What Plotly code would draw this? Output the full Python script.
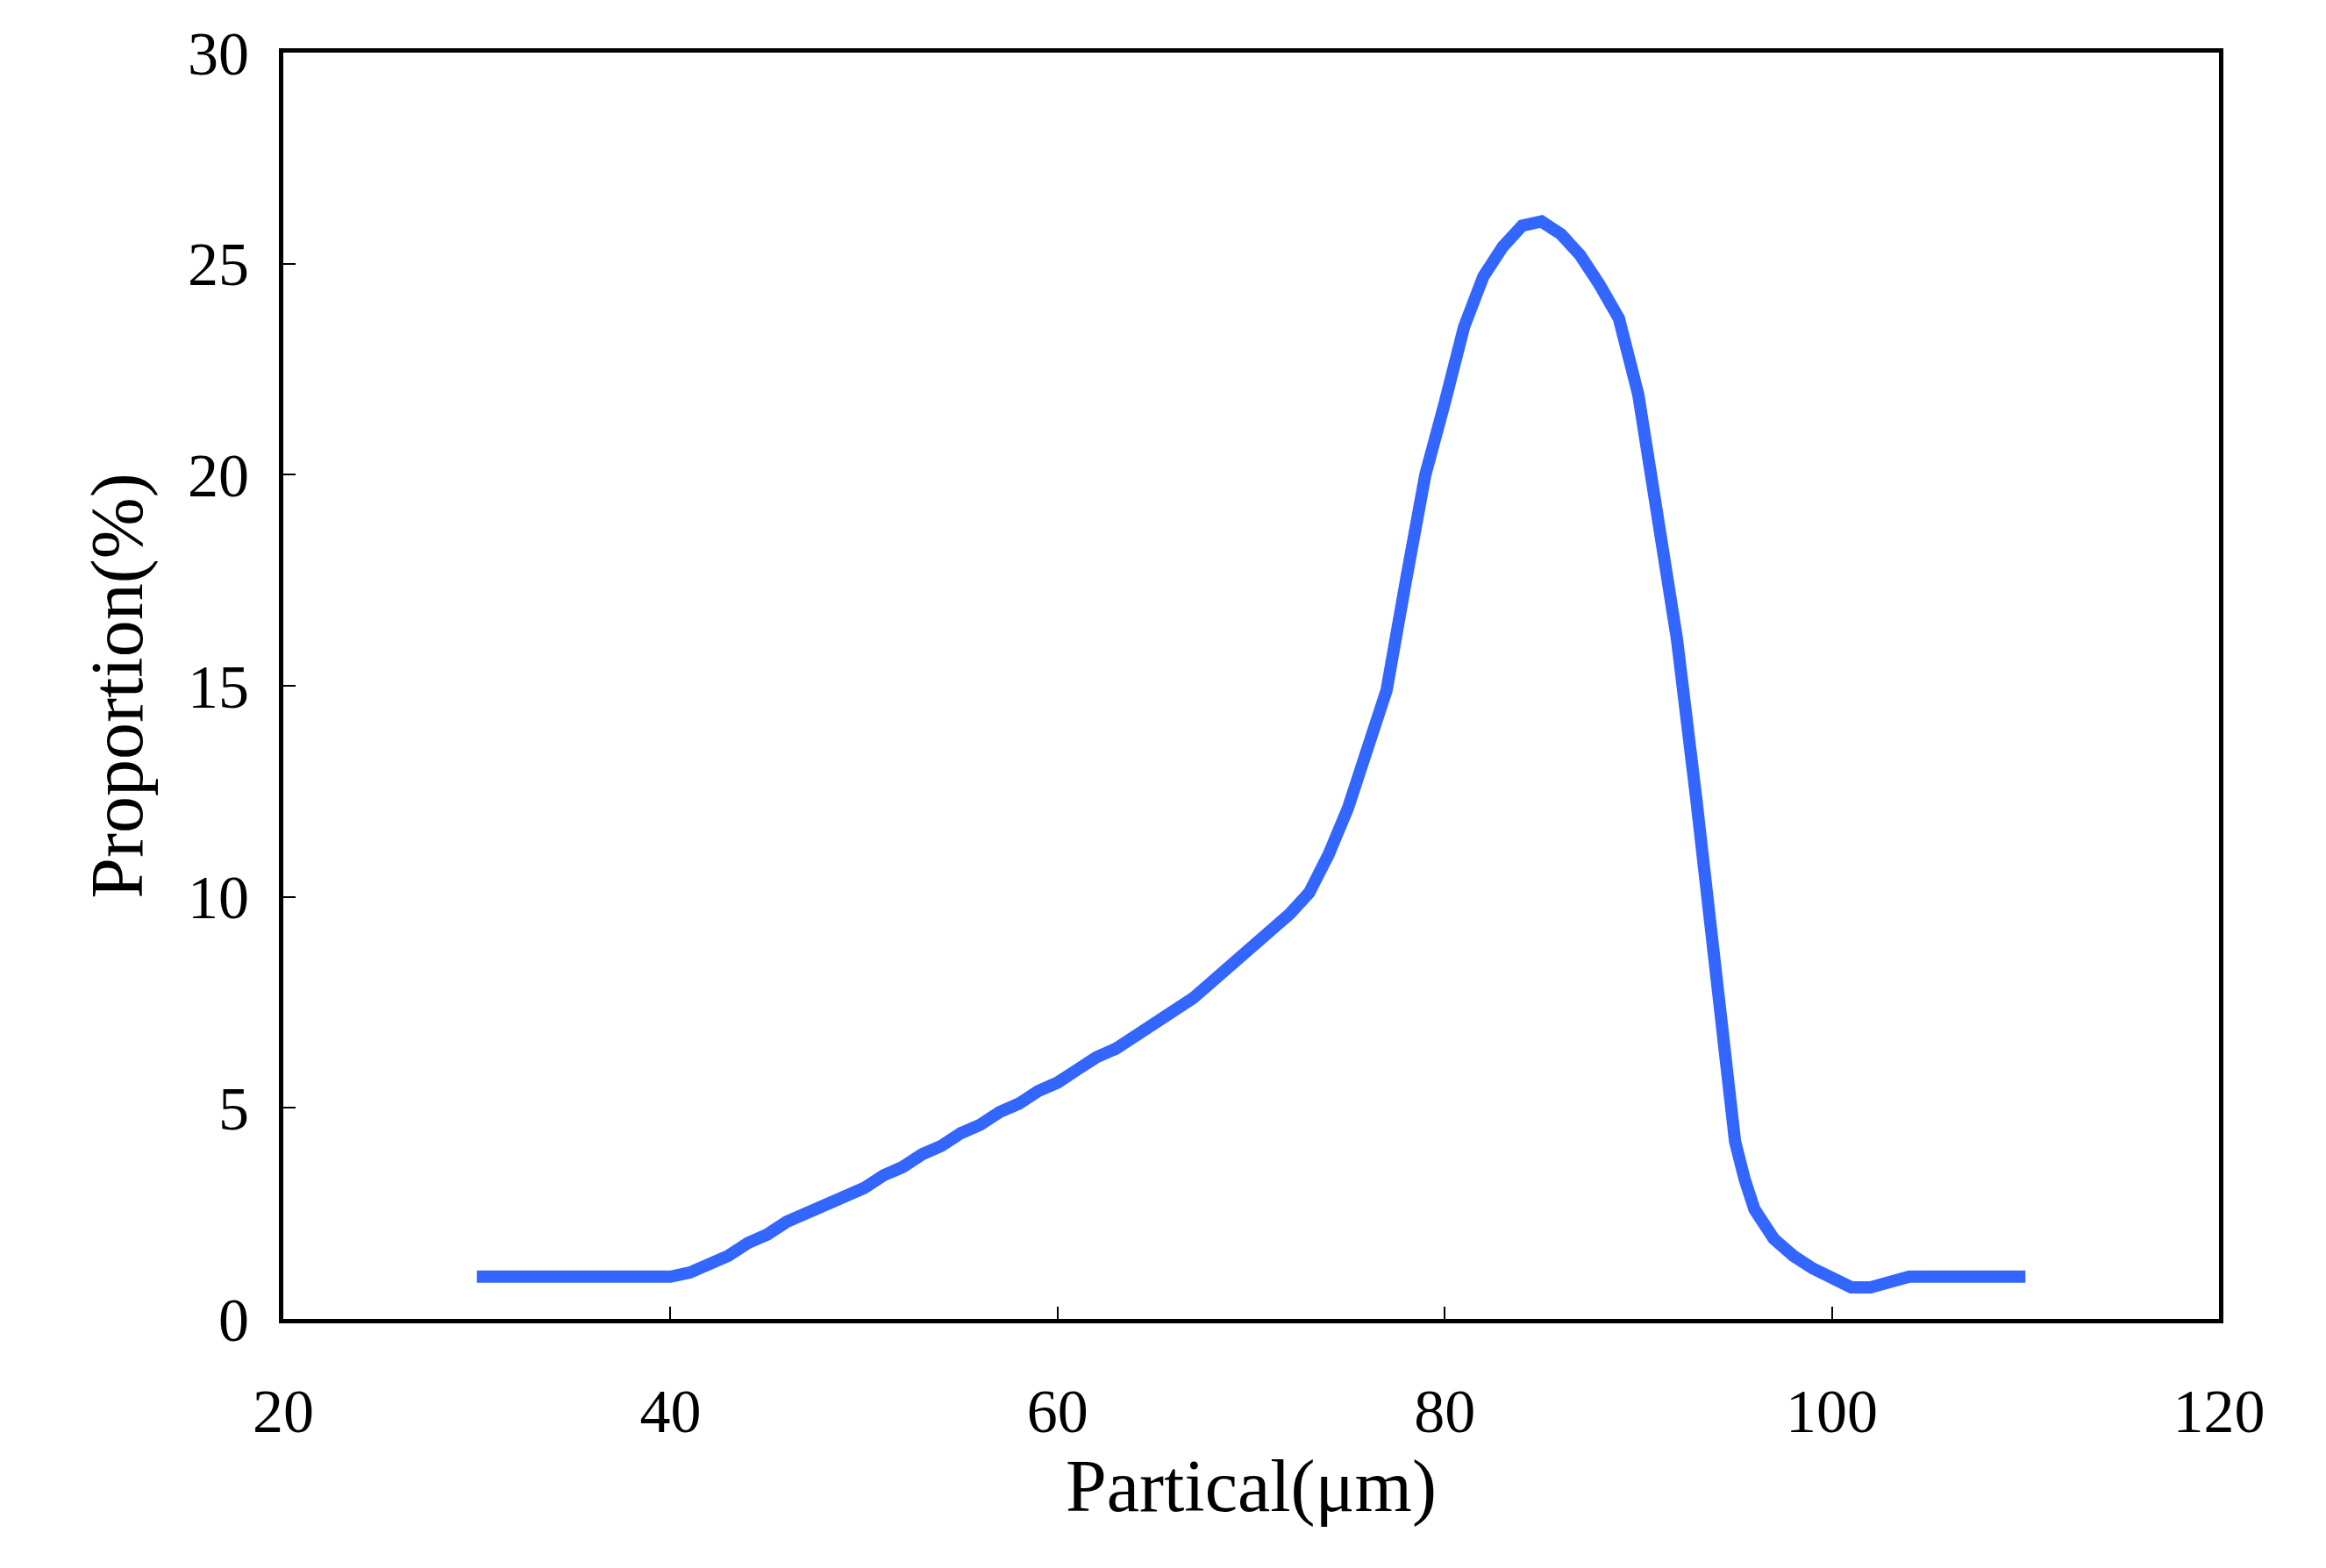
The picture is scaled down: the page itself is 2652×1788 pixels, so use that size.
import plotly.graph_objects as go

# particle size (um) and proportion (%)
size_um = [30, 32, 34, 36, 38, 40, 41, 42, 43, 44, 45, 46, 47, 48, 49, 50, 51, 52, 53, 54, 55,
           56, 57, 58, 59, 60, 61, 62, 63, 64, 65, 66, 67, 68, 69, 70, 71, 72, 73, 74, 75,
           76, 77, 78, 79, 80, 81, 82, 83, 84, 85, 86, 87, 88, 89, 90, 91, 92, 93, 94, 94.5, 95, 95.5,
           96, 97, 98, 99, 100, 101, 102, 103, 104, 106, 108, 110]
proportion = [1.0, 1.0, 1.0, 1.0, 1.0, 1.0, 1.1, 1.3, 1.5, 1.8, 2.0, 2.3, 2.5, 2.7, 2.9, 3.1, 3.4, 3.6, 3.9, 4.1, 4.4,
              4.6, 4.9, 5.1, 5.4, 5.6, 5.9, 6.2, 6.4, 6.7, 7.0, 7.3, 7.6, 8.0, 8.4, 8.8, 9.2, 9.6, 10.1, 11.0, 12.1,
              13.5, 14.9, 17.5, 20.0, 21.7, 23.5, 24.7, 25.4, 25.9, 26.0, 25.7, 25.2, 24.5, 23.7, 21.9, 19.1, 16.1, 12.3, 8.0, 5.8, 4.2, 3.3,
              2.6, 1.9, 1.5, 1.2, 0.95, 0.75, 0.75, 0.9, 1.0, 1.0, 1.0, 1.0]

fig = go.Figure(go.Scatter(x=size_um, y=proportion, mode="lines",
                           line=dict(color="#3366ff", width=14)))

axis_style = dict(showgrid=False, zeroline=False, showline=True, linecolor="black", linewidth=5,
                  mirror=True, ticks="inside", ticklen=14, tickwidth=2, tickcolor="black")
fig.update_xaxes(range=[20, 120], dtick=20, title_text="Partical(μm)", **axis_style,
                 ticklabelstandoff=40, title_standoff=5)
fig.update_yaxes(range=[0, 30], dtick=5, title_text="Proportion(%)", **axis_style,
                 ticklabelstandoff=20, title_standoff=25)
fig.update_layout(width=2652, height=1788, plot_bgcolor="white", paper_bgcolor="white",
                  showlegend=False,
                  font=dict(family="Liberation Serif", size=70, color="black"),
                  margin=dict(l=315, r=130, t=52, b=292))

fig.write_html("out.html")
